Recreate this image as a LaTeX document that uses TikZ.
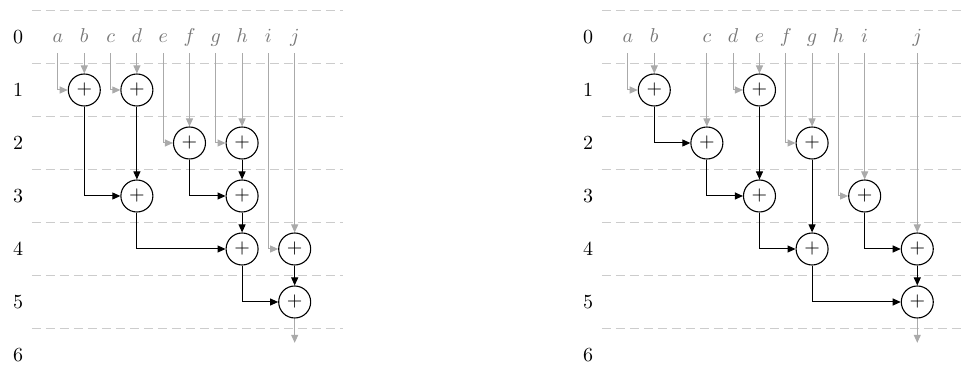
\documentclass[tikz,border=0pt]{standalone}
\usepackage{tikz}
\usetikzlibrary{arrows.meta, positioning}
\definecolor{inkgray}{HTML}{777777}
\definecolor{wiregray}{HTML}{AAAAAA}
\definecolor{rulegray}{HTML}{CCCCCC}

\begin{document}
\begin{tikzpicture}[x=13.15pt, y=-26.5pt,
    adder/.style={draw, circle, line width=0.55pt, minimum size=16pt, inner sep=0pt},
    inp/.style={text=inkgray, text height=7pt, text depth=1pt, inner sep=4pt},
    rowlbl/.style={inner sep=0pt},
    wire/.style={line width=0.5pt, -{Triangle[length=4pt,width=3.5pt]}},
    inwire/.style={wire, wiregray},
    sep/.style={rulegray, line width=0.6pt, dash pattern=on 4.5pt off 2.5pt}]
    \useasboundingbox (-2.205,-0.698) rectangle (34.335,6.396);

    % left: serial tree
    \foreach \r in {0,...,6} {
        \draw[sep] (-0.99,\r-0.5) -- (10.84,\r-0.5);
        \node[rowlbl] (lrow\r) at (-1.52,\r) {\r};
    }
    \foreach \x/\l in {0/a,1/b,2/c,3/d,4/e,5/f,6/g,7/h,8/i,9/j}
        \node[inp] (l\l) at (\x,0) {$\l$};
    \node[adder] (lab) at (1,1) {$+$};
    \node[adder] (lcd) at (3,1) {$+$};
    \node[adder] (lef) at (5,2) {$+$};
    \node[adder] (lgh) at (7,2) {$+$};
    \node[adder] (lad) at (3,3) {$+$};
    \node[adder] (leh) at (7,3) {$+$};
    \node[adder] (lah) at (7,4) {$+$};
    \node[adder] (lij) at (9,4) {$+$};
    \node[adder] (laj) at (9,5) {$+$};
    \coordinate (lout) at (9,5.77);
    \foreach \s/\t in {la/lab, lc/lcd, le/lef, lg/lgh, li/lij}
        \draw[inwire] (\s) |- (\t);
    \foreach \s/\t in {lb/lab, ld/lcd, lf/lef, lh/lgh, lj/lij}
        \draw[inwire] (\s) -- (\t);
    \foreach \s/\t in {lab/lad, lef/leh, lad/lah, lah/laj}
        \draw[wire] (\s) |- (\t);
    \foreach \s/\t in {lcd/lad, lgh/leh, leh/lah, lij/laj}
        \draw[wire] (\s) -- (\t);
    \draw[inwire] (laj) -- (lout);

    % right: reordered tree
    \begin{scope}[xshift=285pt]
    \foreach \r in {0,...,6} {
        \draw[sep] (-0.99,\r-0.5) -- (12.66,\r-0.5);
        \node[rowlbl] (rrow\r) at (-1.52,\r) {\r};
    }
    \foreach \x/\l in {0/a,1/b,3/c,4/d,5/e,6/f,7/g,8/h,9/i,11/j}
        \node[inp] (r\l) at (\x,0) {$\l$};
    \node[adder] (rab) at (1,1) {$+$};
    \node[adder] (rde) at (5,1) {$+$};
    \node[adder] (rac) at (3,2) {$+$};
    \node[adder] (rfg) at (7,2) {$+$};
    \node[adder] (rae) at (5,3) {$+$};
    \node[adder] (rhi) at (9,3) {$+$};
    \node[adder] (rag) at (7,4) {$+$};
    \node[adder] (rhj) at (11,4) {$+$};
    \node[adder] (raj) at (11,5) {$+$};
    \coordinate (rout) at (11,5.77);
    \foreach \s/\t in {ra/rab, rd/rde, rf/rfg, rh/rhi}
        \draw[inwire] (\s) |- (\t);
    \foreach \s/\t in {rb/rab, re/rde, rc/rac, rg/rfg, ri/rhi, rj/rhj}
        \draw[inwire] (\s) -- (\t);
    \foreach \s/\t in {rab/rac, rac/rae, rae/rag, rhi/rhj, rag/raj}
        \draw[wire] (\s) |- (\t);
    \foreach \s/\t in {rde/rae, rfg/rag, rhj/raj}
        \draw[wire] (\s) -- (\t);
    \draw[inwire] (raj) -- (rout);
    \end{scope}
\end{tikzpicture}
\end{document}
